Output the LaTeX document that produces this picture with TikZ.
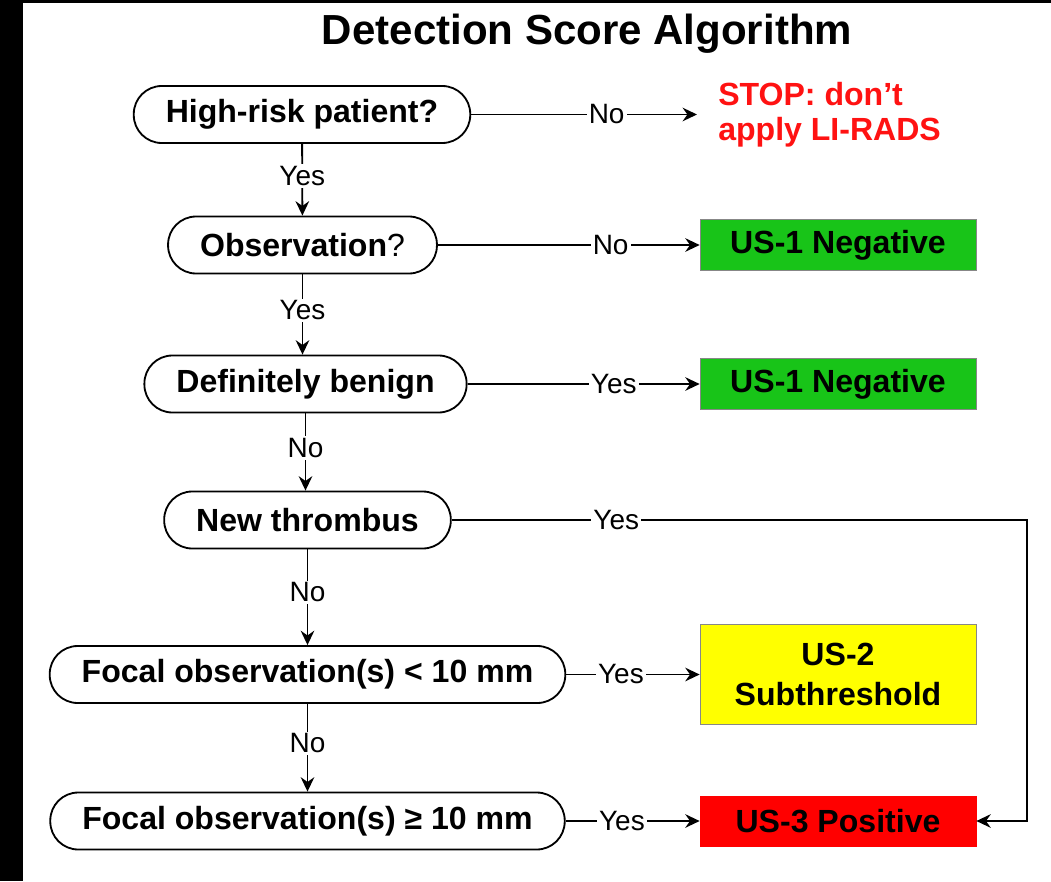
\documentclass[tikz,border=0pt]{standalone}
\usepackage{fontspec}
\setmainfont{Liberation Sans}
\usepackage{xcolor}
\usepackage{tikz}
\usetikzlibrary{arrows.meta, positioning, calc}
\definecolor{negcolor}{RGB}{24,196,24}
\definecolor{subcolor}{RGB}{255,255,0}
\definecolor{poscolor}{RGB}{255,0,0}
\definecolor{stopcolor}{RGB}{255,18,18}
\definecolor{framegray}{RGB}{135,135,135}
\newcommand{\boxfont}{\fontsize{22.8}{28.5}\selectfont\bfseries}
\newcommand{\lblfont}{\fontsize{19.9}{24}\selectfont}
\newcommand{\titlefont}{\fontsize{29.9}{36}\selectfont\bfseries}

\begin{document}
\begin{tikzpicture}[
    decision/.style={draw, line width=1.3pt, rounded corners=0.7cm, minimum height=1.425cm, inner xsep=0.8cm, font=\boxfont},
    result/.style={draw=framegray, line width=0.5pt, minimum width=6.9cm, minimum height=1.275cm, font=\boxfont, align=center},
    lbl/.style={fill=white, inner sep=1.5pt, font=\lblfont},
    arrow/.style={-{Stealth[length=3.6mm, width=3.4mm, inset=1.2mm]}, line width=1.3pt}
]
    % Frame and margins
    \useasboundingbox (0,0) rectangle (26.275,-22.025);
    \fill[white] (0,0) rectangle (26.275,-22.025);
    \fill[black] (0,0) rectangle (0.575,-22.025);
    \fill[black] (0,0) rectangle (26.275,-0.075);

    % Title
    \node[font=\titlefont, anchor=base] (title) at (14.675,-1.1) {Detection Score Algorithm};

    % Questions
    \node[decision] (risk) at (7.55,-2.8625) {High-risk patient?};
    \node[decision] (obs) at (7.5625,-6.125) {Observation\mdseries ?};
    \node[decision] (benign) at (7.6375,-9.6) {Definitely benign};
    \node[decision] (thromb) at (7.6875,-13.0) {New thrombus};
    \node[decision] (small) at (7.6875,-16.8625) {Focal observation(s) < 10 mm};
    \node[decision] (large) at (7.6875,-20.525) {Focal observation(s) ≥ 10 mm};

    % Outcomes
    \node[font=\fontsize{22.8}{24.9}\selectfont\bfseries, text=stopcolor, align=left, anchor=west, inner xsep=0.525cm] (stop) at (17.425,-2.8625) {STOP: don’t\\apply LI-RADS};
    \node[result, fill=negcolor] (neg1) at (20.95,-6.125) {US-1 Negative};
    \node[result, fill=negcolor] (neg2) at (20.95,-9.6) {US-1 Negative};
    \node[result, fill=subcolor, minimum height=2.5cm] (sub) at (20.95,-16.8625) {US-2\\Subthreshold};
    \node[result, fill=poscolor, draw=poscolor, minimum height=1.25cm] (pos) at (20.95,-20.525) {US-3 Positive};
    \coordinate (loop) at (25.675,-13.0);

    % Vertical arrows
    \draw[arrow] (risk) -- node[lbl, pos=0.45] {Yes} (obs);
    \draw[arrow] (obs) -- node[lbl, pos=0.45] {Yes} (obs.south |- benign.north);
    \draw[arrow] (benign) -- node[lbl, pos=0.45] {No} (benign.south |- thromb.north);
    \draw[arrow] (thromb) -- node[lbl, pos=0.45] {No} (small);
    \draw[arrow] (small) -- node[lbl, pos=0.45] {No} (large);

    % Horizontal arrows
    \draw[arrow] (risk) -- node[lbl, pos=0.6] {No} (stop);
    \draw[arrow] (obs) -- node[lbl, pos=0.66] {No} (neg1);
    \draw[arrow] (benign) -- node[lbl, pos=0.63] {Yes} (neg2);
    \draw[arrow] (small) -- node[lbl, pos=0.41] {Yes} (sub);
    \draw[arrow] (large) -- node[lbl, pos=0.42] {Yes} (pos);
    \draw[arrow] (thromb) -- node[lbl, pos=0.286] {Yes} (loop) |- (pos);
\end{tikzpicture}
\end{document}
